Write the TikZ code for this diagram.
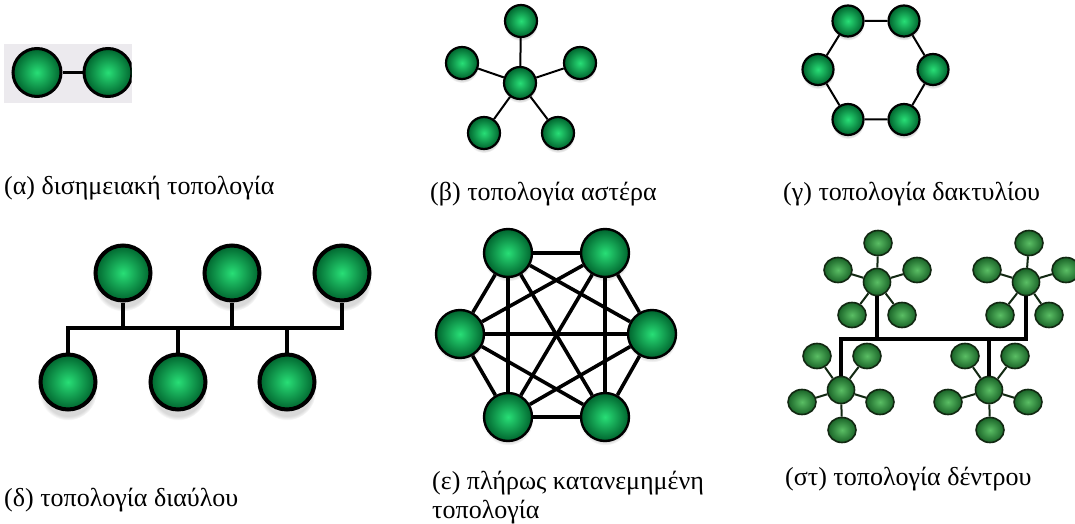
\documentclass[tikz,border=0pt]{standalone}
\usepackage{fontspec}
\setmainfont{Liberation Serif}
\newfontfamily\lblfont{Liberation Serif}
\usetikzlibrary{shadows,shapes.geometric}
\definecolor{gLight}{RGB}{40,222,118}
\definecolor{gDark}{RGB}{0,100,46}
\definecolor{tLight}{RGB}{90,190,100}
\definecolor{tDark}{RGB}{26,100,40}
\definecolor{tLine}{RGB}{18,40,18}
\definecolor{ppbg}{RGB}{236,234,238}
\newcommand\lblsize{\fontsize{26}{29}\selectfont}
\tikzset{
  gball/.style={circle, inner sep=0pt, shading=radial, inner color=gLight, outer color=gDark, draw=black},
  tball/.style={ellipse, inner sep=0pt, minimum width=28pt, minimum height=25pt, shading=radial, inner color=tLight, outer color=tDark, draw=tLine, line width=1.6pt},
  hubball/.style={circle, inner sep=0pt, minimum size=27pt, shading=radial, inner color=tLight, outer color=tDark, draw=tLine, line width=1.6pt},
  softshadow/.style={circular drop shadow={shadow xshift=0pt, shadow yshift=-#1, opacity=.3, shadow scale=1.05}},
  lbl/.style={anchor=base west, inner sep=0pt, font=\lblfont\lblsize, align=left},
}
\begin{document}
\begin{tikzpicture}[x=1pt,y=-1pt]
\useasboundingbox (0,0) rectangle (1075,524);

% (a) point to point
\fill[ppbg] (4,44) rectangle (131.5,103);
\begin{scope}
\clip (4,44) rectangle (131.5,103);
\node[gball, minimum size=48pt, line width=3pt] (a1) at (37,72.5) {};
\node[gball, minimum size=48pt, line width=3pt] (a2) at (108,72.5) {};
\draw[line width=3pt] (a1) -- (a2);
\end{scope}

% (b) star
\begin{scope}[every node/.style={gball, minimum size=32pt, line width=2.2pt, softshadow=3pt}]
\node (sc) at (520,83) {};
\node (s1) at (521,21) {};
\node (s2) at (462,63) {};
\node (s3) at (580,63) {};
\node (s4) at (484,133) {};
\node (s5) at (558,133) {};
\end{scope}
\foreach \n in {s1,s2,s3,s4,s5} \draw[line width=2pt] (sc) -- (\n);

% (c) ring
\begin{scope}[every node/.style={gball, minimum size=31pt, line width=2.2pt, softshadow=3pt}]
\node (r1) at (848,21) {};
\node (r2) at (904,21) {};
\node (r3) at (933,69.5) {};
\node (r4) at (904,119.5) {};
\node (r5) at (848,119.5) {};
\node (r6) at (818,69.5) {};
\end{scope}
\draw[line width=2pt] (r1) -- (r2) (r2) -- (r3) (r3) -- (r4) (r4) -- (r5) (r5) -- (r6) (r6) -- (r1);

% (d) bus
\begin{scope}[every node/.style={gball, minimum size=55pt, line width=4pt, softshadow=9pt}]
\node (t1) at (123,273) {};
\node (t2) at (232,273) {};
\node (t3) at (342,273) {};
\node (d1) at (68,382) {};
\node (d2) at (178,382) {};
\node (d3) at (287,382) {};
\end{scope}
\coordinate (busL) at (68,328);
\draw[line width=4.5pt, line join=miter] (d1) -- (d1 |- busL) -- (t3 |- busL) -- (t3);
\foreach \n in {t1,t2,d2,d3} \draw[line width=4.5pt] (\n) -- (\n |- busL);

% (e) mesh
\begin{scope}[every node/.style={gball, minimum size=48pt, line width=2.4pt, softshadow=3pt}]
\node (m1) at (508,253) {};
\node (m2) at (605,253) {};
\node (m3) at (652,334) {};
\node (m4) at (605,417) {};
\node (m5) at (508,417) {};
\node (m6) at (460,334) {};
\end{scope}
\foreach \a/\b in {m1/m2,m1/m3,m1/m4,m1/m5,m1/m6,m2/m3,m2/m4,m2/m5,m2/m6,m3/m4,m3/m5,m3/m6,m4/m5,m4/m6,m5/m6}
  \draw[line width=3.6pt] (\a) -- (\b);

% (f) tree
\node[hubball] (h1) at (877,282) {};
\node[hubball] (h2) at (1026,282) {};
\node[hubball] (h3) at (841,390) {};
\node[hubball] (h4) at (989,390) {};
\node[tball] (h1a) at (878,243) {};
\node[tball] (h1b) at (838,270) {};
\node[tball] (h1c) at (917,270) {};
\node[tball] (h1d) at (852,315) {};
\node[tball] (h1e) at (902,315) {};
\node[tball] (h2a) at (1029,243) {};
\node[tball] (h2b) at (987,270) {};
\node[tball] (h2c) at (1066,270) {};
\node[tball] (h2d) at (1000,315) {};
\node[tball] (h2e) at (1049,315) {};
\node[tball] (h3a) at (817,356) {};
\node[tball] (h3b) at (867,356) {};
\node[tball] (h3c) at (802,402) {};
\node[tball] (h3d) at (880,402) {};
\node[tball] (h3e) at (842,430) {};
\node[tball] (h4a) at (965,356) {};
\node[tball] (h4b) at (1015,356) {};
\node[tball] (h4c) at (948,402) {};
\node[tball] (h4d) at (1028,402) {};
\node[tball] (h4e) at (990,430) {};
\foreach \h in {h1,h2,h3,h4}
  \foreach \l in {a,b,c,d,e}
    \draw[line width=2pt, color=tLine] (\h) -- (\h\l);
\coordinate (tbus) at (841,339);
\draw[line width=4.5pt, line join=miter] (h3) -- (h3 |- tbus) -- (h2 |- tbus) -- (h2);
\foreach \n in {h1,h4} \draw[line width=4.5pt] (\n) -- (\n |- tbus);

% labels
\node[lbl] (la) at (4,194) {(α) δισημειακή τοπολογία};
\node[lbl] (lb) at (430,200) {(β) τοπολογία αστέρα};
\node[lbl] (lc) at (783,200) {(γ) τοπολογία δακτυλίου};
\node[lbl] (ld) at (4,506) {(δ) τοπολογία διαύλου};
\node[lbl] (le) at (432,518) {(ε) πλήρως κατανεμημένη\\τοπολογία};
\node[lbl] (lf) at (785,485) {(στ) τοπολογία δέντρου};
\end{tikzpicture}
\end{document}
